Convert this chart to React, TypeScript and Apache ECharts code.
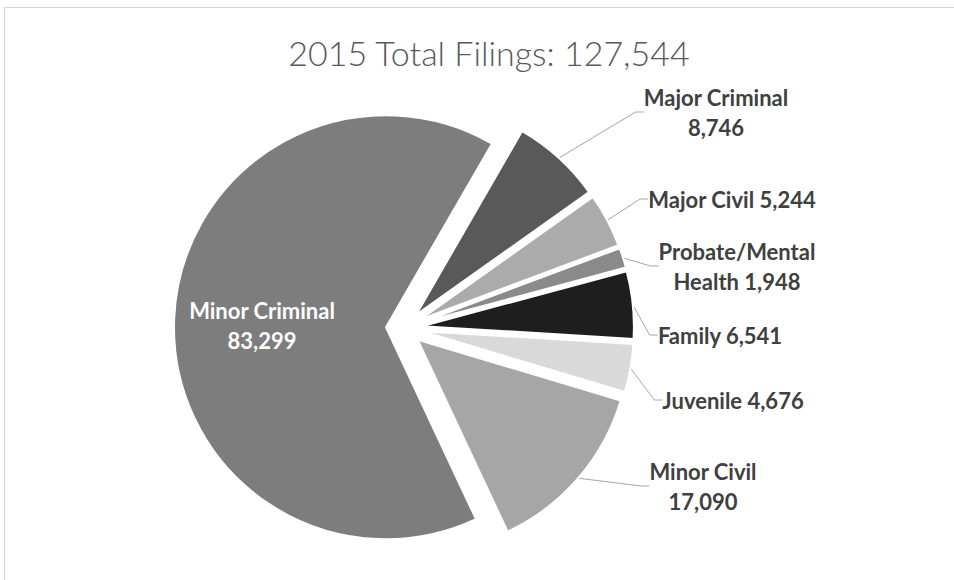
import React, { useEffect, useRef } from "react";
import * as echarts from "echarts";

const categories = [
  "Major Criminal",
  "Major Civil",
  "Probate/Mental Health",
  "Family",
  "Juvenile",
  "Minor Civil",
  "Minor Criminal",
];
const filings = [8746, 5244, 1948, 6541, 4676, 17090, 83299];
const sliceColors = ["#595959", "#ababab", "#8a8a8a", "#1e1e1e", "#d9d9d9", "#a6a6a6", "#7d7d7d"];
const labelTemplates = [
  "Major Criminal\n{v}",
  "Major Civil {v}",
  "Probate/Mental\nHealth {v}",
  "Family {v}",
  "Juvenile {v}",
  "Minor Civil\n{v}",
  "Minor Criminal\n{v}",
];
const labelAnchors: [number, number][] = [
  [716, 112],
  [732, 199],
  [737, 266],
  [720, 335],
  [733, 400],
  [703, 486],
  [262, 325],
];

const PIE_CENTER: [number, number] = [404, 328];
const PIE_RADIUS = 212;
const EXPLODE = 18;
const FIRST_SLICE_DEG = 30; // clockwise from 12 o'clock

const fmt = (v: number) => v.toLocaleString("en-US");
const total = filings.reduce((a, b) => a + b, 0);
const titleText = "2015 Total Filings: " + fmt(total);

export default function App() {
  const ref = useRef<HTMLDivElement>(null);
  useEffect(() => {
    if (!ref.current) return;
    const chart = echarts.init(ref.current, undefined, { renderer: "svg" });

    let cum = 0;
    const series = categories.map((name, i) => {
      const mid = FIRST_SLICE_DEG + ((cum + filings[i] / 2) / total) * 360;
      cum += filings[i];
      const rad = (mid * Math.PI) / 180;
      const cx = PIE_CENTER[0] + EXPLODE * Math.sin(rad);
      const cy = PIE_CENTER[1] - EXPLODE * Math.cos(rad);
      const inside = name === "Minor Criminal";
      const data = categories.map((n, j) => {
        const visible = j === i;
        return {
          name: n,
          value: filings[j],
          itemStyle: visible
            ? { color: sliceColors[j], borderColor: "#ffffff", borderWidth: 2 }
            : { color: "rgba(0,0,0,0)", borderWidth: 0 },
          label: visible
            ? { show: true, color: inside ? "#ffffff" : "#404040" }
            : { show: false },
          labelLine: { show: visible && !inside },
        };
      });
      return {
        type: "pie",
        name,
        center: [cx, cy],
        radius: PIE_RADIUS,
        startAngle: 90 - FIRST_SLICE_DEG,
        clockwise: true,
        avoidLabelOverlap: false,
        silent: true,
        emphasis: { disabled: true },
        label: {
          position: "outside",
          fontFamily: "Lato",
          fontWeight: "bold",
          fontSize: 22,
          lineHeight: 30,
          formatter: (p: any) => labelTemplates[p.dataIndex].replace("{v}", fmt(p.value)),
        },
        labelLine: {
          length: 10,
          length2: 8,
          lineStyle: { color: "#a6a6a6", width: 1 },
        },
        labelLayout: (p: any) => {
          const a = labelAnchors[p.dataIndex];
          return { x: a[0], y: a[1], align: "center", verticalAlign: "middle" };
        },
        data,
      };
    });

    chart.setOption({
      animation: false,
      backgroundColor: "#ffffff",
      graphic: [
        {
          type: "rect",
          shape: { x: 4.5, y: 7.5, width: 1200, height: 800 },
          style: { fill: "none", stroke: "#d4d4d4", lineWidth: 1 },
          silent: true,
        },
        {
          type: "text",
          x: 489,
          y: 52,
          style: {
            text: titleText,
            font: "300 34px Lato",
            fill: "#595959",
            align: "center",
            verticalAlign: "middle",
          },
        },
      ],
      series,
    });
    return () => chart.dispose();
  }, []);
  return (
    <div
      ref={ref}
      style={{ position: "fixed", left: 0, top: 0, width: 954, height: 580, background: "#fff" }}
    />
  );
}
